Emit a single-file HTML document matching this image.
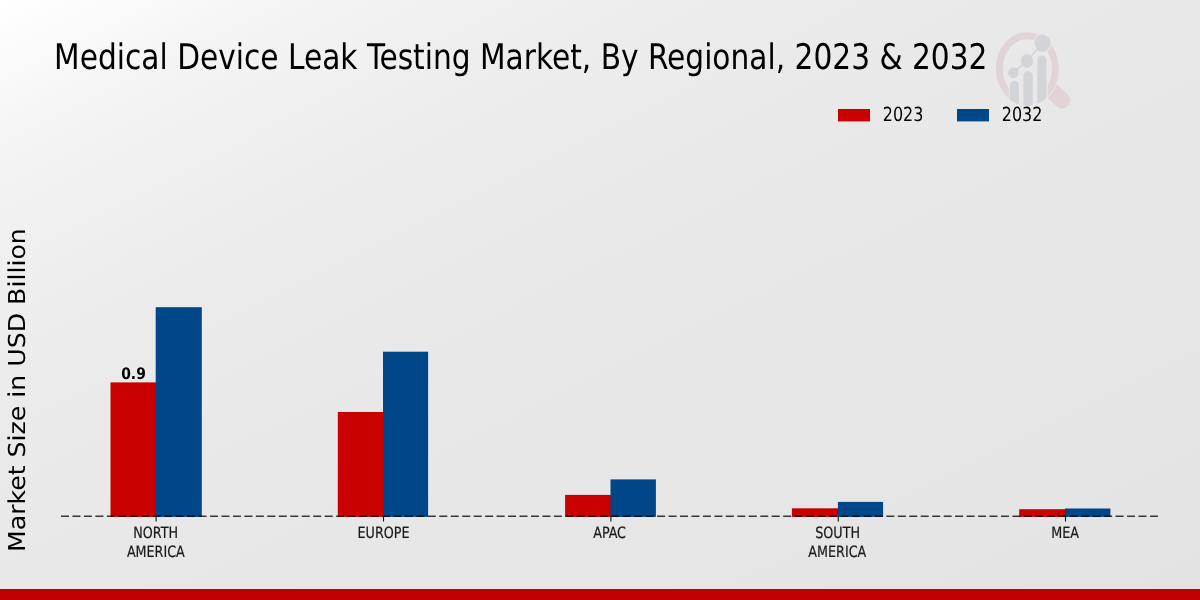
<!DOCTYPE html>
<html lang="en">
<head>
<meta charset="utf-8">
<title>Medical Device Leak Testing Market, By Regional, 2023 &amp; 2032</title>
<style>
  html, body { margin: 0; padding: 0; }
  body { width: 1200px; height: 600px; overflow: hidden; background: #e7e7e7; }
  svg { display: block; }
  text { text-rendering: geometricPrecision; }
  .cond { font-family: "DejaVu Sans Condensed", "DejaVu Sans", "Liberation Sans", sans-serif; font-stretch: condensed; }
  .reg  { font-family: "DejaVu Sans", "Liberation Sans", sans-serif; }
</style>
</head>
<body>
<svg width="1200" height="600" viewBox="0 0 1200 600">
  <defs>
    <linearGradient id="bg" gradientUnits="objectBoundingBox" x1="0" y1="0" x2="1" y2="1">
      <stop offset="0" stop-color="#ffffff"/>
      <stop offset="0.0625" stop-color="#fafafa"/>
      <stop offset="0.125" stop-color="#f4f4f4"/>
      <stop offset="0.25" stop-color="#eeeeee"/>
      <stop offset="0.375" stop-color="#eaeaea"/>
      <stop offset="0.5" stop-color="#e8e8e8"/>
      <stop offset="0.75" stop-color="#e6e6e6"/>
      <stop offset="1" stop-color="#e3e3e3"/>
    </linearGradient>
    <clipPath id="lens"><ellipse cx="1027.3" cy="68.75" rx="31.3" ry="37"/></clipPath>
    <mask id="ringMask" maskUnits="userSpaceOnUse" x="980" y="20" width="110" height="100">
      <rect x="980" y="20" width="110" height="100" fill="#fff"/>
      <rect x="1008.8" y="80" width="38.9" height="30" fill="#000"/>
      <ellipse cx="1042.5" cy="43" rx="9.1" ry="10" fill="#000"/>
    </mask>
    <mask id="handleMask" maskUnits="userSpaceOnUse" x="980" y="20" width="110" height="100">
      <rect x="980" y="20" width="110" height="100" fill="#fff"/>
      <ellipse cx="1027.3" cy="68.75" rx="32.4" ry="37.4" fill="#000"/>
    </mask>
  </defs>
  <rect x="0" y="0" width="1200" height="600" fill="url(#bg)"/>

  <!-- logo watermark -->
  <g id="logo">
    <g mask="url(#handleMask)">
      <line x1="1045.3" y1="84.6" x2="1062.1" y2="100.3" stroke="#e1d4d6" stroke-width="16.3" stroke-linecap="round"/>
    </g>
    <g mask="url(#ringMask)">
      <ellipse cx="1027.3" cy="68.75" rx="28" ry="33" fill="none" stroke="#e1d4d6" stroke-width="6.9"/>
    </g>
    <g clip-path="url(#lens)" fill="#d3d4d8">
      <rect x="1009.8" y="80.8" width="9.1" height="40" rx="4.55" ry="5"/>
      <rect x="1023.4" y="71" width="9.3" height="50" rx="4.65" ry="5"/>
      <rect x="1037.3" y="55.4" width="9.2" height="60" rx="4.6" ry="5"/>
    </g>
    <g fill="#d3d4d8" stroke="none">
      <path d="M1013.3 72.7 L1027.1 61 L1042.5 43" fill="none" stroke="#d3d4d8" stroke-width="1.2"/>
      <ellipse cx="1013.3" cy="72.7" rx="5.25" ry="5.5"/>
      <ellipse cx="1027.1" cy="61" rx="6" ry="6.9"/>
      <ellipse cx="1042.5" cy="43" rx="7.9" ry="8.8"/>
    </g>
  </g>

  <!-- title -->
  <g style="filter:grayscale(1)"><text class="cond" transform="translate(54.1,68.7) scale(0.935,1)" font-size="35.25" fill="#000">Medical Device Leak Testing Market, By Regional, 2023 &amp; 2032</text></g>

  <!-- legend -->
  <rect x="838" y="109" width="32" height="12.4" fill="#c80000"/>
  <rect x="957" y="109" width="32" height="12.4" fill="#004789"/>
  <g class="cond" style="filter:grayscale(1)" font-size="19.5" fill="#000">
    <text transform="translate(882.8,121.25) scale(0.909,1)">2023</text>
    <text transform="translate(1001.8,121.25) scale(0.909,1)">2032</text>
  </g>

  <!-- y axis label -->
  <g style="filter:grayscale(1)"><text class="reg" transform="translate(25,390.1) scale(0.924,1) rotate(-90)" text-anchor="middle" font-size="25.2" fill="#000">Market Size in USD Billion</text></g>

  <!-- bars -->
  <g fill="#c80000">
    <rect x="110.5" y="382.4" width="45.8" height="134.5"/>
    <rect x="337.8" y="412.0" width="45.8" height="104.9"/>
    <rect x="565.1" y="494.9" width="46.0" height="22.0"/>
    <rect x="791.9" y="508.3" width="46.6" height="8.6"/>
    <rect x="1019.2" y="509.2" width="46.4" height="7.7"/>
  </g>
  <g fill="#004789">
    <rect x="155.7" y="307.2" width="46.1" height="209.7"/>
    <rect x="383.0" y="351.7" width="45.1" height="165.2"/>
    <rect x="610.5" y="479.4" width="45.4" height="37.5"/>
    <rect x="837.9" y="501.9" width="45.2" height="15.0"/>
    <rect x="1065.0" y="508.5" width="45.4" height="8.4"/>
  </g>

  <!-- value label -->
  <g style="filter:grayscale(1)"><text class="reg" transform="translate(133.5,378.5) scale(0.868,1)" text-anchor="middle" font-size="16" font-weight="bold" fill="#000">0.9</text></g>

  <!-- axis line and ticks -->
  <line x1="61" y1="516.2" x2="1158.3" y2="516.2" stroke="#000" stroke-opacity="0.76" stroke-width="1.5" stroke-dasharray="8 3.463"/>
  <g stroke="#111" stroke-width="1.1">
    <line x1="156.1" y1="516.5" x2="156.1" y2="521.5"/>
    <line x1="383.5" y1="516.5" x2="383.5" y2="521.5"/>
    <line x1="610.9" y1="516.5" x2="610.9" y2="521.5"/>
    <line x1="838.3" y1="516.5" x2="838.3" y2="521.5"/>
    <line x1="1065.5" y1="516.5" x2="1065.5" y2="521.5"/>
  </g>

  <!-- tick labels -->
  <g class="cond" style="filter:grayscale(1)" font-size="15.6" fill="#1a1a1a" stroke="#1a1a1a" stroke-width="0.2" text-anchor="middle">
    <text transform="translate(155.65,538) scale(0.907,1)">NORTH</text>
    <text transform="translate(155.85,557) scale(0.907,1)">AMERICA</text>
    <text transform="translate(383.5,538) scale(0.907,1)">EUROPE</text>
    <text transform="translate(609.6,538) scale(0.907,1)">APAC</text>
    <text transform="translate(837.6,538) scale(0.907,1)">SOUTH</text>
    <text transform="translate(837.3,557) scale(0.907,1)">AMERICA</text>
    <text transform="translate(1065.2,538) scale(0.907,1)">MEA</text>
  </g>

  <!-- bottom strip -->
  <rect x="0" y="589" width="1200" height="11" fill="#c00000"/>
</svg>
</body>
</html>
